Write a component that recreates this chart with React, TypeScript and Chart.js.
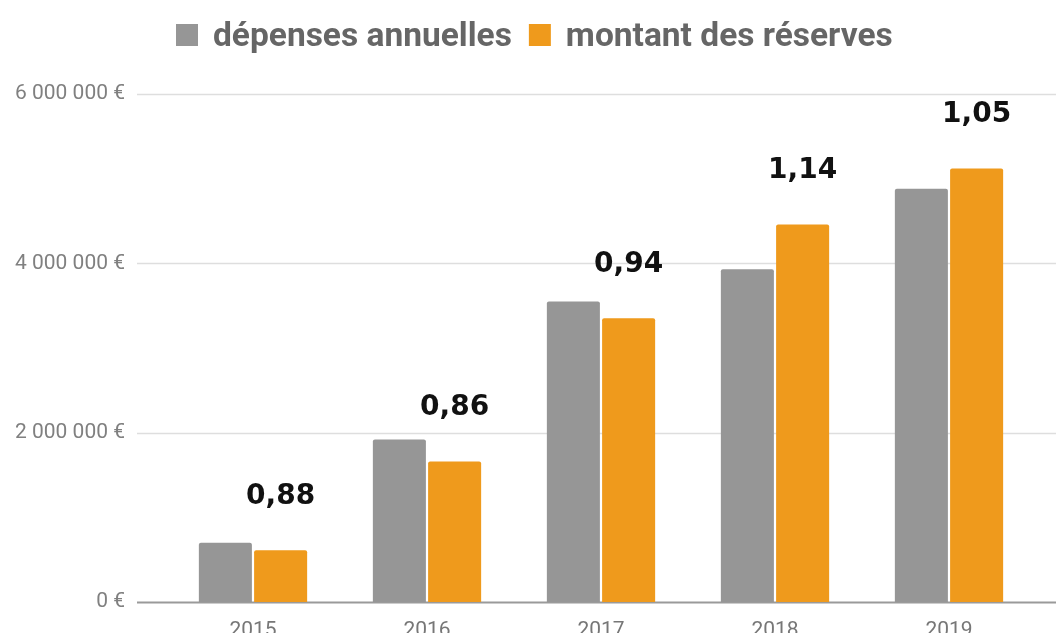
import React, { useEffect, useRef } from "react";
import { Chart, registerables } from "chart.js";

Chart.register(...registerables);

const years = ["2015", "2016", "2017", "2018", "2019"];
const depensesAnnuelles = [700000, 1920000, 3550000, 3930000, 4880000];
const montantReserves = [610000, 1660000, 3350000, 4460000, 5120000];
const ratioLabels = ["0,88", "0,86", "0,94", "1,14", "1,05"];
const yTicks = [0, 2000000, 4000000, 6000000];

const GRAY = "#969696";
const ORANGE = "#EF9A1C";

function fmtEuro(v: number): string {
  const s = Math.round(v).toString().replace(/\B(?=(\d{3})+(?!\d))/g, " ");
  return s + " €";
}

const gridPlugin = {
  id: "customGrid",
  beforeDatasetsDraw(chart: any) {
    const { ctx, chartArea, scales } = chart;
    const y = scales.y;
    ctx.save();
    for (const v of yTicks) {
      const py = Math.round(y.getPixelForValue(v));
      ctx.beginPath();
      if (v === 0) {
        ctx.strokeStyle = "#9a9a9a";
        ctx.lineWidth = 2;
      } else {
        ctx.strokeStyle = "#dedede";
        ctx.lineWidth = 1.5;
      }
      ctx.moveTo(chartArea.left - 29, py + 0.5);
      ctx.lineTo(chart.width, py + 0.5);
      ctx.stroke();
    }
    ctx.restore();
  },
};

const ratioPlugin = {
  id: "ratioLabels",
  afterDatasetsDraw(chart: any) {
    const { ctx } = chart;
    const meta = chart.getDatasetMeta(1);
    ctx.save();
    ctx.font = "bold 28px 'DejaVu Sans'";
    ctx.fillStyle = "#111111";
    ctx.textAlign = "center";
    ctx.textBaseline = "middle";
    meta.data.forEach((el: any, i: number) => {
      ctx.fillText(ratioLabels[i], el.x, el.y - 54);
    });
    ctx.restore();
  },
};

const legendPlugin = {
  id: "customLegend",
  afterDraw(chart: any) {
    const { ctx } = chart;
    ctx.save();
    ctx.font = "bold 33.5px Roboto";
    ctx.textBaseline = "middle";
    ctx.textAlign = "left";
    let x = 176;
    const cy = 35;
    chart.data.datasets.forEach((ds: any) => {
      ctx.fillStyle = ds.backgroundColor;
      ctx.fillRect(x, cy - 11, 22, 22);
      ctx.fillStyle = "#666666";
      ctx.fillText(ds.label, x + 37, cy + 3);
      x += 37 + ctx.measureText(ds.label).width + 17;
    });
    ctx.restore();
  },
};

export default function App() {
  const ref = useRef<HTMLCanvasElement>(null);
  useEffect(() => {
    if (!ref.current) return;
    const chart = new Chart(ref.current, {
      type: "bar",
      data: {
        labels: years,
        datasets: [
          {
            label: "dépenses annuelles",
            data: depensesAnnuelles,
            backgroundColor: GRAY,
            borderRadius: 2,
            borderSkipped: "start",
          },
          {
            label: "montant des réserves",
            data: montantReserves,
            backgroundColor: ORANGE,
            borderRadius: 2,
            borderSkipped: "start",
          },
        ],
      },
      options: {
        responsive: true,
        maintainAspectRatio: false,
        animation: false,
        layout: { padding: { top: 94, right: 20, left: 0, bottom: 0 } },
        datasets: {
          bar: { categoryPercentage: 0.635, barPercentage: 0.96 },
        },
        plugins: {
          legend: { display: false },
          tooltip: { enabled: false },
        },
        scales: {
          x: {
            grid: { display: false, drawTicks: false },
            border: { display: false },
            ticks: {
              padding: 16,
              color: "#777777",
              font: { family: "Roboto", size: 21 },
            },
            afterFit(scale: any) {
              scale.height = 31;
            },
          },
          y: {
            min: 0,
            max: 6000000,
            grid: { display: false, drawTicks: true, tickLength: 41 },
            border: { display: false },
            afterBuildTicks(scale: any) {
              scale.ticks = yTicks.map((v) => ({ value: v }));
            },
            ticks: {
              padding: 0,
              color: "#808080",
              font: { family: "Roboto", size: 21 },
              callback: (v: any) => fmtEuro(Number(v)),
            },
            afterFit(scale: any) {
              scale.width = 166;
            },
          },
        },
      },
      plugins: [gridPlugin, ratioPlugin, legendPlugin],
    });
    return () => chart.destroy();
  }, []);
  return (
    <div style={{ position: "fixed", left: 0, top: 0, width: 1056, height: 633, background: "#fff" }}>
      <canvas ref={ref} style={{ display: "block" }} />
    </div>
  );
}
